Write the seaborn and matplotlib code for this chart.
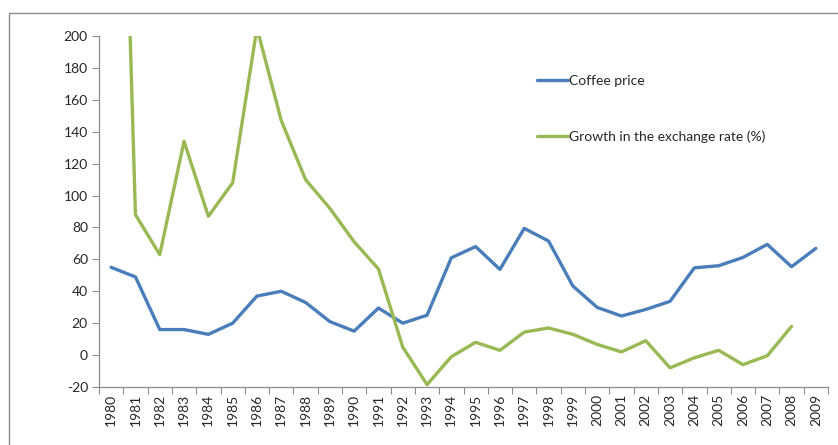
import matplotlib
matplotlib.use('Agg')

import numpy as np
import pandas as pd
import seaborn as sns
import matplotlib.pyplot as plt
from matplotlib.patches import Rectangle

# === Data ===
years = [str(y) for y in range(1980, 2010)]
coffee_price = [55, 49, 16, 16, 13, 20, 37, 40, 33, 21, 15, 29.5, 20, 25, 61,
                68, 53.7, 79.4, 71.5, 43.3, 29.9, 24.5, 28.6, 33.7, 54.7, 56,
                61.2, 69.4, 55.4, 66.9]
exchange_growth = [600, 88, 63, 134, 87, 108, 205, 147, 110, 92, 71, 54, 5, -18.5,
                   -1, 8, 3, 14.4, 17, 13, 6.7, 2, 9, -8, -1.7, 3, -6, -0.4, 18,
                   np.nan]
y_ticks = list(range(-20, 201, 20))

df = pd.DataFrame({
    'pos': np.arange(len(years)),
    'Coffee price': coffee_price,
    'Growth in the exchange rate (%)': exchange_growth,
})
long_df = df.melt(id_vars='pos', var_name='series', value_name='value')

sns.set_style('white')
plt.rcParams['font.family'] = ['Lato', 'DejaVu Sans']

fig = plt.figure(figsize=(8.38, 4.45), dpi=100)
ax = fig.add_axes([99 / 838, 1 - 387 / 445, 729 / 838, 351 / 445])

# outer chart frame (partly cut off at the right and bottom)
fig.patches.append(Rectangle((9 / 838, -0.1), 1.2, 1 - 13 / 445 + 0.1,
                             transform=fig.transFigure, fill=False,
                             edgecolor='#8c8c8c', linewidth=1.0))

sns.lineplot(data=long_df, x='pos', y='value', hue='series',
             palette=['#4a7ebb', '#98b954'], linewidth=2.4, ax=ax)

ax.set_xlim(-0.5, len(years) - 0.5)
ax.set_ylim(-20, 200)
ax.set_xlabel('')
ax.set_ylabel('')

# tick marks between categories, labels at centers
ax.set_xticks(np.arange(-0.5, len(years), 1))
ax.set_xticklabels([])
ax.set_xticks(np.arange(len(years)), minor=True)
ax.set_xticklabels(years, minor=True, rotation=90, fontsize=10)
ax.tick_params(axis='x', which='major', length=5, width=0.8, color='#8c8c8c', direction='out', bottom=True)
ax.tick_params(axis='x', which='minor', length=0, pad=5)

ax.set_yticks(y_ticks)
ax.set_yticklabels([str(t) for t in y_ticks], fontsize=10)
ax.tick_params(axis='y', length=5, width=0.8, color='#8c8c8c', direction='out', left=True, pad=3)

for side in ['top', 'right']:
    ax.spines[side].set_visible(False)
for side in ['left', 'bottom']:
    ax.spines[side].set_color('#8c8c8c')
    ax.spines[side].set_linewidth(0.9)

ax.legend(loc='upper left', bbox_to_anchor=(0.601, 0.888), frameon=False,
          fontsize=10, handlelength=2.2, handletextpad=0.1, labelspacing=3.1,
          borderpad=0, borderaxespad=0)

fig.savefig('out.png', dpi=100)
